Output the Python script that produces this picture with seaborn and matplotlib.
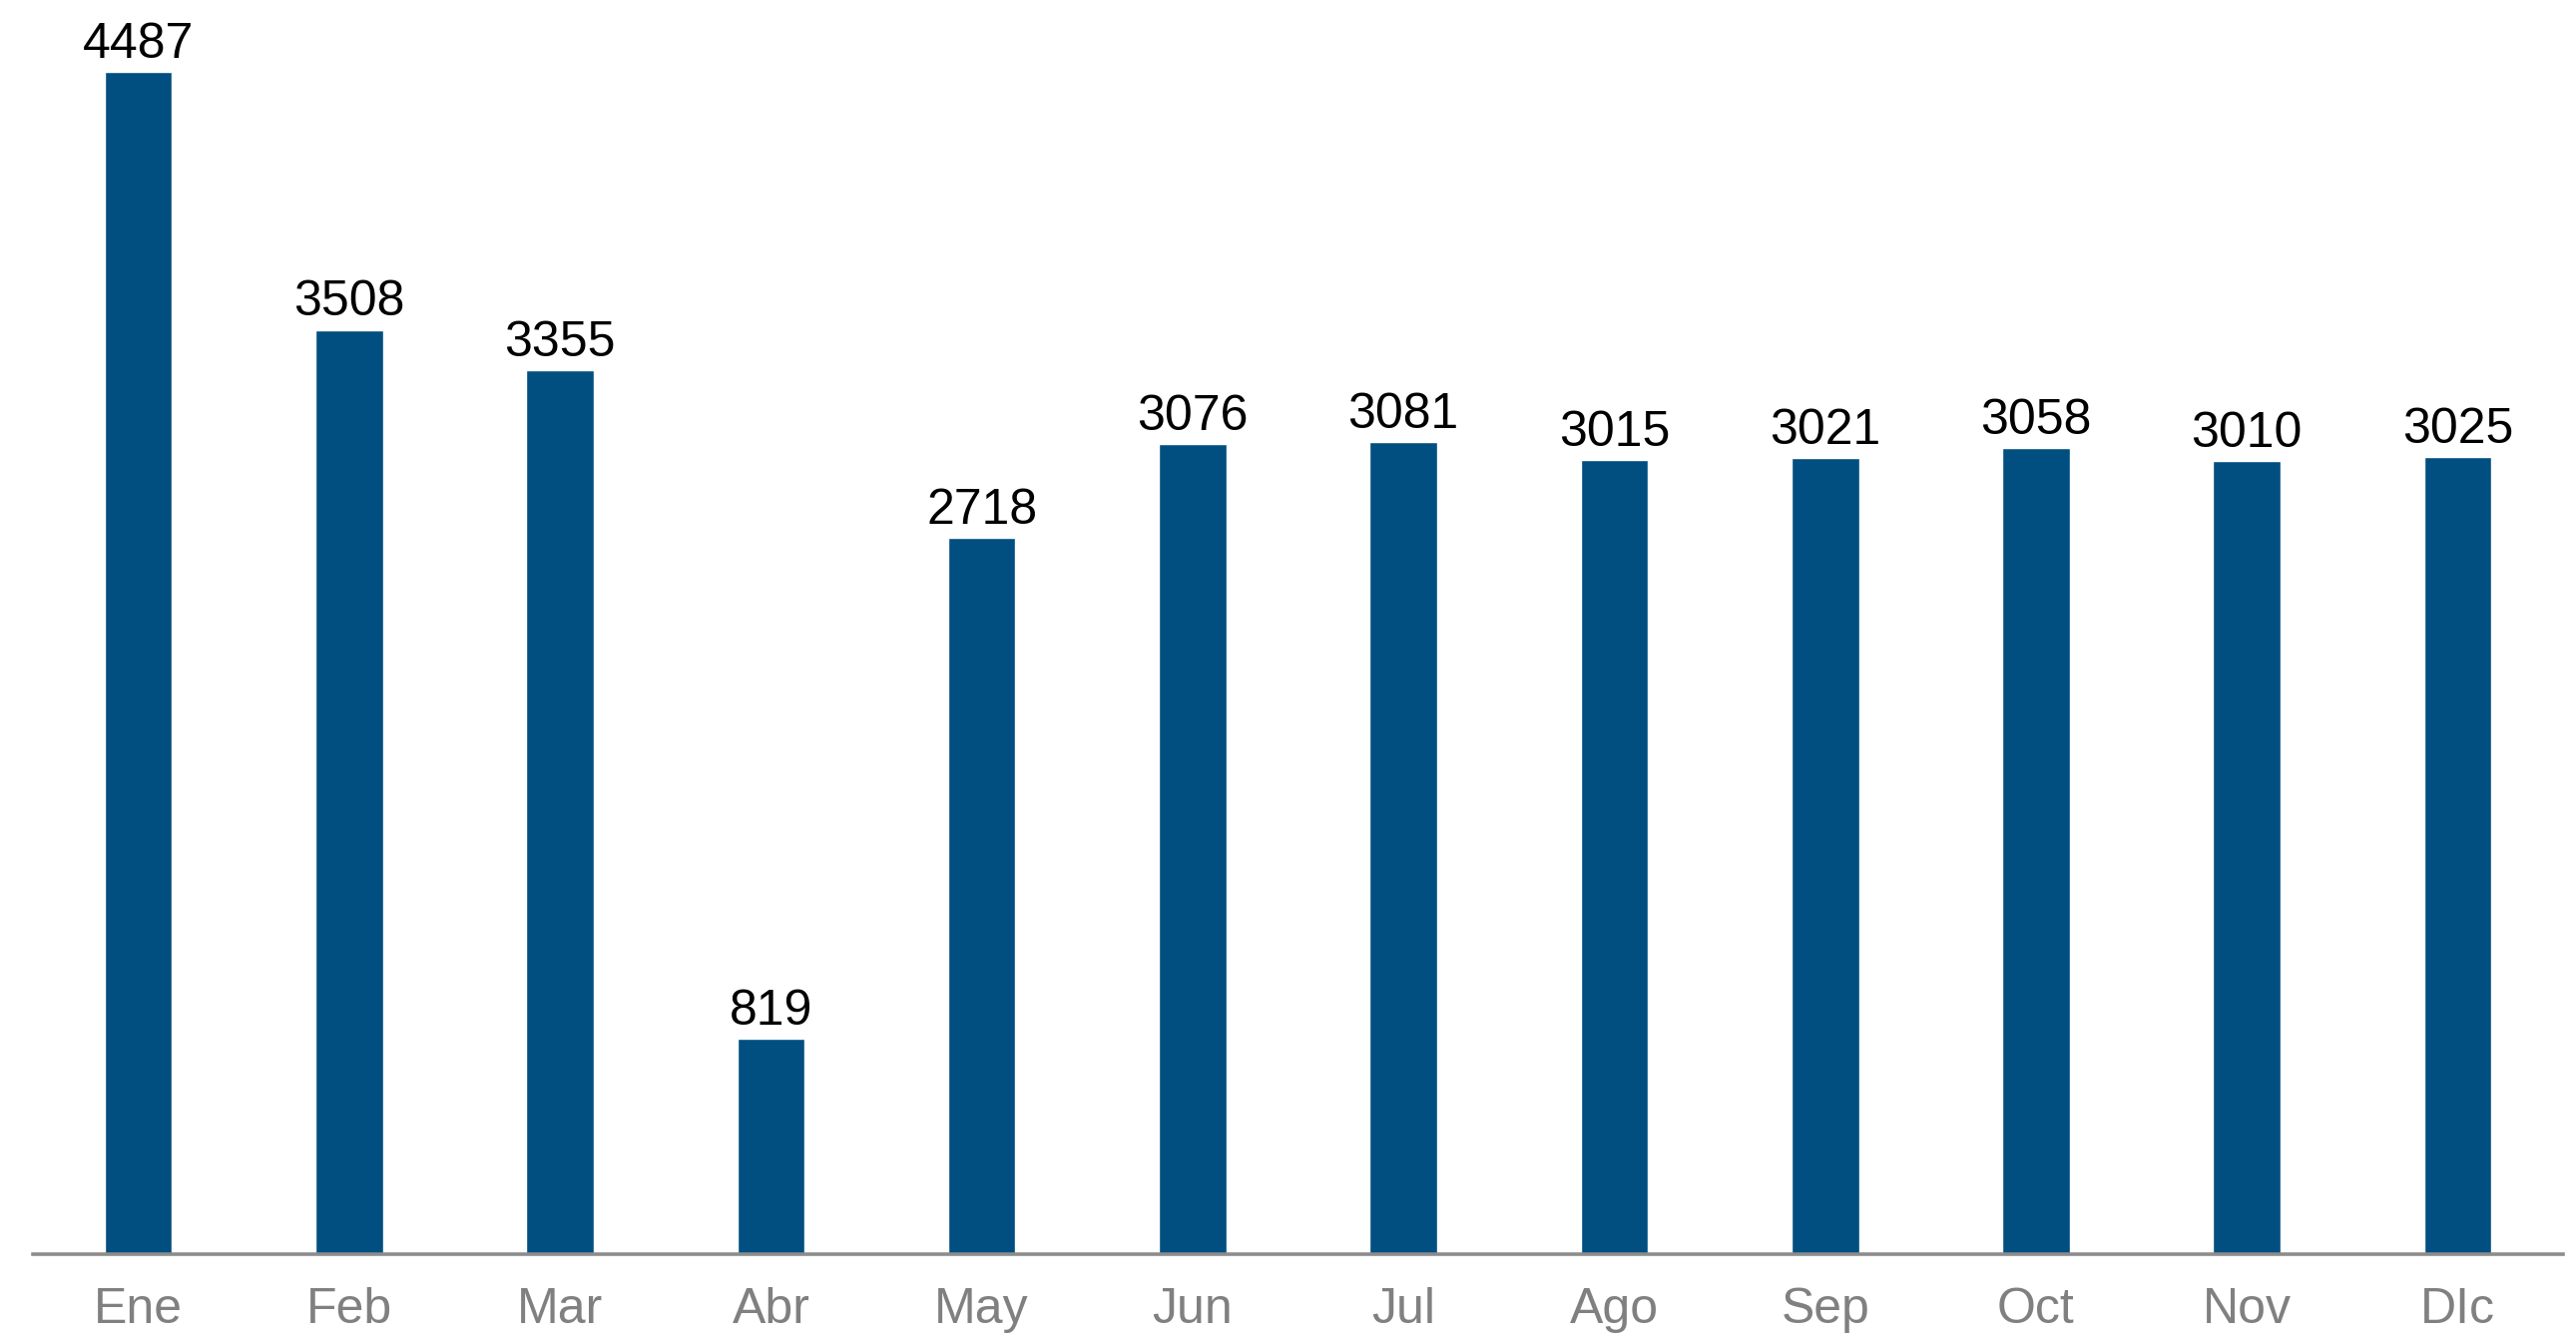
import matplotlib
matplotlib.use('Agg')
import matplotlib.pyplot as plt
import seaborn as sns
import pandas as pd

MONTHS = ['Ene', 'Feb', 'Mar', 'Abr', 'May', 'Jun', 'Jul', 'Ago', 'Sep', 'Oct', 'Nov', 'DIc']
VALUES = [4487, 3508, 3355, 819, 2718, 3076, 3081, 3015, 3021, 3058, 3010, 3025]

BAR_COLOR = '#004f80'
GRAY = '#808080'

sns.set_style('white')
plt.rcParams['font.family'] = ['Liberation Sans', 'DejaVu Sans']

df = pd.DataFrame({'month': MONTHS, 'value': VALUES})

fig = plt.figure(figsize=(25.81, 13.38), dpi=100)
ax = fig.add_axes([0.0128, 0.0605, 0.9822, 0.9395])

sns.barplot(data=df, x='month', y='value', color=BAR_COLOR, width=0.32,
            saturation=1, ax=ax)

ax.bar_label(ax.containers[0], labels=[str(v) for v in VALUES],
             padding=3, fontsize=36, color='black')

ax.set_xlim(-0.5, 11.5)
ax.set_ylim(0, 4760)
ax.set_xlabel('')
ax.set_ylabel('')
ax.set_yticks([])
for side in ['top', 'left', 'right']:
    ax.spines[side].set_visible(False)
ax.spines['bottom'].set_color('#8c8c8c')
ax.spines['bottom'].set_linewidth(2.6)
ax.tick_params(axis='x', length=0, pad=24, labelsize=36, labelcolor=GRAY)

fig.savefig('out.png', dpi=100, facecolor='white')
